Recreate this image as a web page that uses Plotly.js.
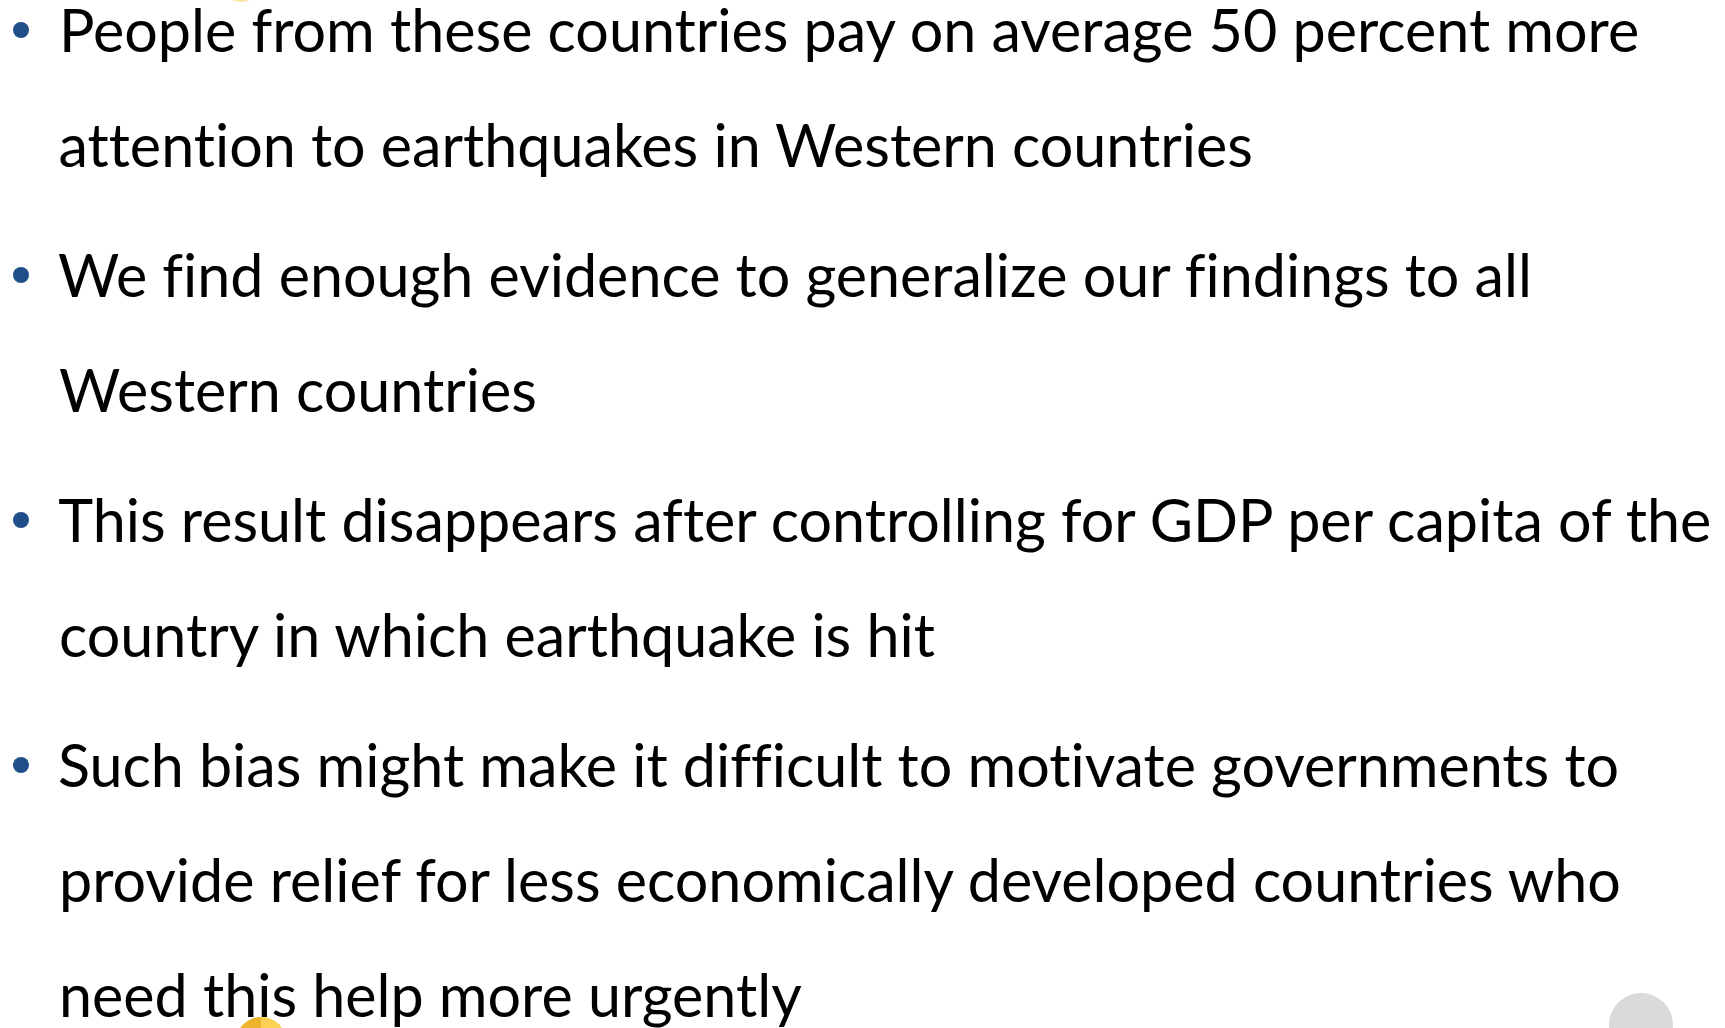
<!DOCTYPE html>
<html>
<head>
<meta charset="utf-8">
<script src="https://cdn.plot.ly/plotly-3.0.1.min.js"></script>
<style>
  html, body { margin: 0; padding: 0; background: #ffffff; }
  #chart { width: 1725px; height: 1028px; }
  #chart text { font-variant-ligatures: none; font-feature-settings: "liga" 0, "clig" 0; }
</style>
</head>
<body>
<div id="chart"></div>
<script>
// ---- content (data) ----
const bullet1 = ["People from these countries pay on average 50 percent more",
                 "attention to earthquakes in Western countries"];
const bullet2 = ["We find enough evidence to generalize our findings to all",
                 "Western countries"];
const bullet3 = ["This result disappears after controlling for GDP per capita of the",
                 "country in which earthquake is hit"];
const bullet4 = ["Such bias might make it difficult to motivate governments to",
                 "provide relief for less economically developed countries who",
                 "need this help more urgently"];
const bullets = [bullet1, bullet2, bullet3, bullet4];

// ---- layout constants ----
const W = 1725, H = 1028;
const FONT = "Lato";
const TEXT_X = 57;
const BULLET_X = 21;
const FIRST_BASELINE = 52;
const LINE_STEP = 115;
const BULLET_EXTRA = 15;
const BULLET_RISE = 22;
const TEXT_COLOR = "#000000";
const BULLET_COLOR = "#1f4e88";

// fit font size so the text widths match the slide
function measure(txt) {
  const c = document.createElement("canvas").getContext("2d");
  c.font = "100px " + FONT;
  return c.measureText(txt).width;
}
const s1 = 1590 / measure(bullet1[0]) * 100;
const s3 = 1650 / measure(bullet3[0]) * 100;
let fontSize = (s1 + s3) / 2;
if (!isFinite(fontSize) || fontSize < 30 || fontSize > 80) fontSize = 55;

const annotations = [];
const bx = [], by = [];
let baseline = FIRST_BASELINE;
bullets.forEach((lines, bi) => {
  if (bi > 0) baseline += BULLET_EXTRA;
  bx.push(BULLET_X);
  by.push(baseline - BULLET_RISE);
  lines.forEach((ln) => {
    annotations.push({
      x: TEXT_X, y: baseline - 0.387 * fontSize,
      xref: "x", yref: "y",
      xanchor: "left", yanchor: "middle",
      text: ln, showarrow: false,
      font: { family: FONT, size: fontSize, color: TEXT_COLOR }
    });
    baseline += LINE_STEP;
  });
});

// right half of a circle as cubic beziers
function rightHalf(cx, cy, r) {
  const k = 0.5523 * r;
  return `M ${cx},${cy - r} C ${cx + k},${cy - r} ${cx + r},${cy - k} ${cx + r},${cy} ` +
         `C ${cx + r},${cy + k} ${cx + k},${cy + r} ${cx},${cy + r} Z`;
}

const shapes = [
  { type: "circle", xref: "x", yref: "y", x0: 221, x1: 261, y0: -38, y1: 2,
    fillcolor: "#fbe6b0", line: { width: 0 }, layer: "below" },
  { type: "circle", xref: "x", yref: "y", x0: 236, x1: 286, y0: 1017, y1: 1067,
    fillcolor: "#efb42e", line: { width: 0 }, layer: "below" },
  { type: "path", xref: "x", yref: "y", path: rightHalf(261, 1042, 25),
    fillcolor: "#fdd153", line: { width: 0 }, layer: "below" },
  { type: "circle", xref: "x", yref: "y", x0: 1609, x1: 1673, y0: 993, y1: 1057,
    fillcolor: "#d9dadb", line: { width: 0 }, layer: "below" }
];

const traces = [{
  type: "scatter", mode: "markers", x: bx, y: by,
  marker: { size: 16, color: BULLET_COLOR, line: { width: 0 } },
  hoverinfo: "skip", showlegend: false
}];

const layout = {
  width: W, height: H,
  margin: { l: 0, r: 0, t: 0, b: 0, pad: 0 },
  paper_bgcolor: "#ffffff", plot_bgcolor: "#ffffff",
  xaxis: { range: [0, W], visible: false, fixedrange: true },
  yaxis: { range: [H, 0], visible: false, fixedrange: true },
  showlegend: false,
  annotations: annotations,
  shapes: shapes
};

Plotly.newPlot("chart", traces, layout, { displayModeBar: false, staticPlot: true });
</script>
</body>
</html>
